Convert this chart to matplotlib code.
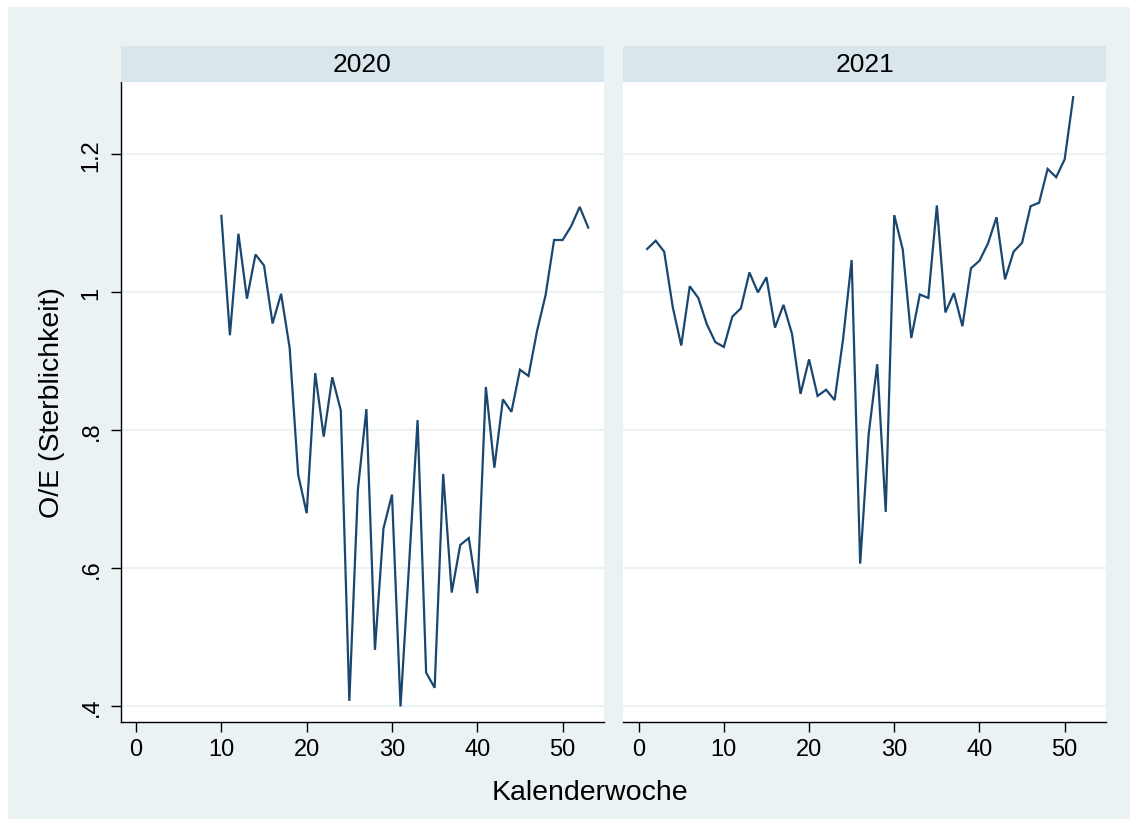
import matplotlib
matplotlib.use('Agg')
import matplotlib.pyplot as plt
from matplotlib.patches import Rectangle

plt.rcParams['font.family'] = ['Liberation Sans', 'DejaVu Sans']

# O/E ratio per calendar week
weeks2020 = list(range(10, 54))
oe2020 = [1.111, 0.938, 1.085, 0.991, 1.055, 1.039, 0.955, 0.998, 0.920, 0.736,
          0.680, 0.883, 0.791, 0.877, 0.829, 0.408, 0.714, 0.831, 0.482, 0.658,
          0.707, 0.400, 0.605, 0.815, 0.449, 0.427, 0.737, 0.565, 0.634, 0.644,
          0.564, 0.863, 0.746, 0.845, 0.827, 0.888, 0.879, 0.944, 0.996, 1.076,
          1.076, 1.096, 1.124, 1.094]
weeks2021 = list(range(1, 52))
oe2021 = [1.063, 1.075, 1.059, 0.979, 0.923, 1.009, 0.992, 0.954, 0.928, 0.921,
          0.965, 0.977, 1.029, 1.000, 1.022, 0.949, 0.982, 0.940, 0.853, 0.903,
          0.850, 0.859, 0.844, 0.933, 1.047, 0.607, 0.795, 0.896, 0.682, 1.112,
          1.062, 0.934, 0.997, 0.992, 1.126, 0.971, 0.999, 0.951, 1.035, 1.046,
          1.071, 1.109, 1.019, 1.059, 1.072, 1.125, 1.130, 1.179, 1.167, 1.193,
          1.283]
panels = ['2020', '2021']
xticks = [0, 10, 20, 30, 40, 50]
yticks = [0.4, 0.6, 0.8, 1.0, 1.2]
ylabels = ['.4', '.6', '.8', '1', '1.2']

W, H = 1138., 828.
bg = '#EAF2F3'
strip = '#D9E6EB'
navy = '#1A476F'

fig = plt.figure(figsize=(W / 100, H / 100), dpi=100, facecolor='white')
fig.patches.append(Rectangle((8 / W, 8 / H), 1 - 16 / W, 1 - 16 / H,
                             transform=fig.transFigure, facecolor=bg,
                             edgecolor='none', zorder=-10))

lefts = [120.7, 623.3]
rights = [604., 1106.]
top, bottom = 83., 723.3
data = [(weeks2020, oe2020), (weeks2021, oe2021)]

for i in range(2):
    l = lefts[i] / W
    w = (rights[i] - lefts[i]) / W
    b = 1 - bottom / H
    h = (bottom - top) / H
    ax = fig.add_axes([l, b, w, h])
    ax.set_facecolor('white')
    xx, yy = data[i]
    ax.plot(xx, yy, color=navy, lw=1.6, solid_joinstyle='miter')
    ax.set_xlim(-1.8, 54.85)
    ax.set_ylim(0.377, 1.305)
    ax.set_xticks(xticks)
    ax.set_yticks(yticks)
    ax.set_yticklabels(ylabels)
    ax.grid(axis='y', color=bg, lw=1.5)
    ax.set_axisbelow(True)
    for s in ['top', 'right']:
        ax.spines[s].set_visible(False)
    ax.spines['bottom'].set_linewidth(1.0)
    ax.spines['left'].set_linewidth(1.0)
    ax.tick_params(axis='x', length=7, width=1, labelsize=17, pad=4)
    ax.tick_params(axis='y', length=7, width=1, labelsize=17, pad=6,
                   labelrotation=90)
    for t in ax.get_yticklabels():
        t.set_va('center')
    if i == 1:
        ax.spines['left'].set_visible(False)
        ax.tick_params(axis='y', left=False, labelleft=False)

    # strip with the year
    sx = fig.add_axes([l, 1 - top / H, w, 36 / H])
    sx.set_facecolor(strip)
    sx.set_xticks([])
    sx.set_yticks([])
    for s in sx.spines.values():
        s.set_visible(False)
    sx.text(0.5, 0.5, panels[i], ha='center', va='center', fontsize=19,
            transform=sx.transAxes)

fig.text(590 / W, 1 - 793 / H, 'Kalenderwoche', ha='center', va='center',
         fontsize=20.5)
fig.text(52 / W, 1 - 403 / H, 'O/E (Sterblichkeit)', ha='center', va='center',
         rotation=90, fontsize=20.5)

plt.savefig('out.png', dpi=100, facecolor='white')
